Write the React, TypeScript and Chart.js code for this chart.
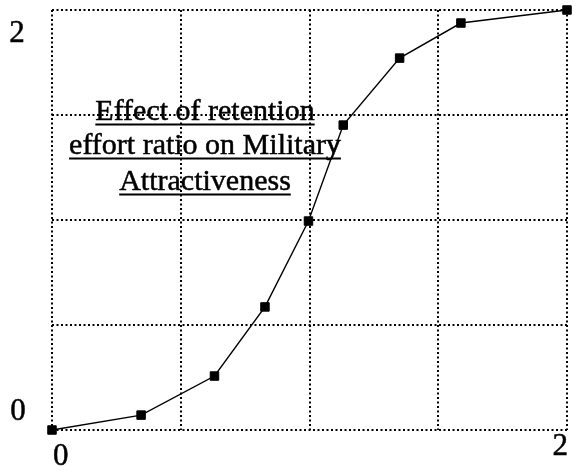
import React, { useEffect, useRef } from "react";
import { Chart, registerables } from "chart.js";

Chart.register(...registerables);

const xValues = [0, 0.346, 0.631, 0.827, 0.996, 1.131, 1.35, 1.588, 2.0];
const yValues = [0, 0.071, 0.257, 0.586, 0.995, 1.452, 1.771, 1.938, 2.0];
const xTickLabels = ["0", "2"];
const yTickLabels = ["0", "2"];
const titleLines = ["Effect of retention", "effort ratio on Military", "Attractiveness"];

const FONT_FAMILY = '"Liberation Serif", "Times New Roman", serif';

function thickText(ctx: any, text: string, x: number, y: number) {
  ctx.fillText(text, x, y);
  ctx.lineWidth = 0.5;
  ctx.strokeText(text, x, y);
}

const labelPlugin = {
  id: "customLabels",
  afterDraw(chart: any) {
    const ctx = chart.ctx;
    const xs = chart.scales.x;
    const ys = chart.scales.y;
    ctx.save();
    ctx.fillStyle = "#000";
    ctx.strokeStyle = "#000";
    ctx.font = `31px ${FONT_FAMILY}`;
    ctx.textBaseline = "alphabetic";
    // y tick labels
    ctx.textAlign = "center";
    thickText(ctx, yTickLabels[1], 17, ys.getPixelForValue(2) + 32);
    thickText(ctx, yTickLabels[0], 18, ys.getPixelForValue(0) - 10);
    // x tick labels
    ctx.textAlign = "left";
    thickText(ctx, xTickLabels[0], xs.getPixelForValue(0) + 1, ys.getPixelForValue(0) + 35);
    ctx.textAlign = "right";
    thickText(ctx, xTickLabels[1], xs.getPixelForValue(2) + 1, ys.getPixelForValue(0) + 25);

    // annotation text
    ctx.font = `30px ${FONT_FAMILY}`;
    ctx.textAlign = "center";
    const cx = 205;
    const baselines = [120, 154, 190];
    titleLines.forEach((line, i) => {
      const y = baselines[i];
      thickText(ctx, line, cx, y);
      const w = ctx.measureText(line).width;
      ctx.lineWidth = 1.8;
      ctx.beginPath();
      ctx.moveTo(cx - w / 2, y + 4.5);
      ctx.lineTo(cx + w / 2, y + 4.5);
      ctx.stroke();
    });
    ctx.restore();
  },
};

export default function App() {
  const ref = useRef<HTMLCanvasElement>(null);
  useEffect(() => {
    if (!ref.current) return;
    const data = xValues.map((x, i) => ({ x, y: yValues[i] }));
    const gridOpts = {
      color: "#000",
      lineWidth: 2,
      drawTicks: false,
    };
    const chart = new Chart(ref.current, {
      type: "scatter",
      data: {
        datasets: [
          {
            data,
            showLine: true,
            borderColor: "#000",
            borderWidth: 1.4,
            backgroundColor: "#000",
            pointStyle: "rect",
            pointRadius: 6,
            pointBorderWidth: 1,
            pointBorderColor: "#000",
            pointBackgroundColor: "#000",
            clip: false as any,
          },
        ],
      },
      options: {
        responsive: false,
        animation: false,
        layout: { padding: { left: 52, top: 10, right: 2, bottom: 44 } },
        plugins: { legend: { display: false }, tooltip: { enabled: false } },
        scales: {
          x: {
            type: "linear",
            min: 0,
            max: 2,
            border: { display: false },
            grid: gridOpts as any,
            ticks: { display: false, stepSize: 0.5, padding: 0 },
          },
          y: {
            type: "linear",
            min: 0,
            max: 2,
            border: { display: false },
            grid: gridOpts as any,
            ticks: { display: false, stepSize: 0.5, padding: 0 },
          },
        },
      },
      plugins: [labelPlugin],
    });
    const applyDash = (scale: any) => {
      const orig = scale.drawGrid.bind(scale);
      scale.drawGrid = (area: any) => {
        const ctx = scale.ctx;
        ctx.save();
        const origSetLineDash = ctx.setLineDash.bind(ctx);
        ctx.setLineDash = () => origSetLineDash([2, 2.5]);
        orig(area);
        ctx.setLineDash = origSetLineDash;
        ctx.restore();
      };
    };
    applyDash(chart.scales.x);
    applyDash(chart.scales.y);
    chart.draw();
    return () => chart.destroy();
  }, []);
  return (
    <div style={{ position: "absolute", left: 0, top: 0, width: 574, height: 474, background: "#fff" }}>
      <canvas ref={ref} width={574} height={474} style={{ display: "block" }} />
    </div>
  );
}
